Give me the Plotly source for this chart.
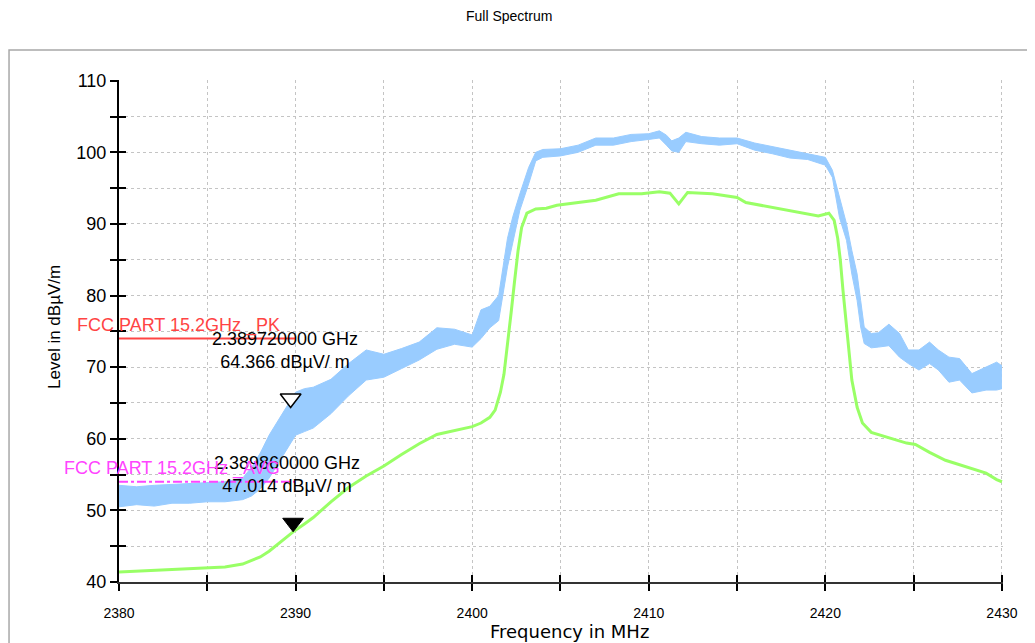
import plotly.graph_objects as go

# Peak trace (blue) - read as upper/lower envelope of the noisy sweep
pk_freq = [2380, 2381, 2382, 2383, 2384, 2385, 2386, 2387, 2387.5, 2388, 2388.5, 2389, 2389.5,
           2390, 2390.5, 2391, 2392, 2393, 2394, 2395, 2396, 2397, 2398, 2399, 2400, 2400.5,
           2401, 2401.5, 2402, 2402.3, 2402.7, 2403.2, 2403.6, 2404, 2405, 2406, 2407, 2408,
           2409, 2410, 2410.6, 2411, 2411.3, 2411.7, 2412.1, 2413, 2414, 2415, 2416, 2417, 2418,
           2419, 2420, 2420.4, 2420.8, 2421.2, 2421.5, 2421.8, 2422, 2422.2, 2422.6, 2423,
           2423.6, 2424.2, 2424.7, 2425.3, 2425.9, 2426.4, 2427, 2427.6, 2428.3, 2429.1, 2429.7, 2430]
pk_upper = [53.5, 53.3, 53.5, 53.6, 53.8, 53.8, 54.0, 54.5, 56.0, 58.0, 60.5, 62.5, 64.5,
            66.5, 67.0, 67.2, 68.3, 70.5, 72.4, 71.8, 72.6, 73.5, 75.5, 75.3, 74.5, 78.0,
            78.5, 80.0, 88.0, 91.0, 94.2, 97.9, 100.0, 100.4, 100.5, 101.0, 102.0, 102.0,
            102.5, 102.6, 103.0, 102.4, 101.6, 102.0, 102.8, 102.2, 102.0, 102.0, 101.3, 100.8, 100.2,
            99.8, 99.3, 97.5, 93.7, 90.0, 86.3, 83.0, 79.3, 75.6, 74.7, 74.8,
            76.0, 74.7, 72.4, 72.4, 73.5, 72.4, 71.4, 71.2, 69.1, 70.0, 70.7, 70.2]
pk_lower = [50.5, 50.8, 50.6, 51.0, 51.0, 51.2, 51.2, 51.5, 52.0, 53.0, 54.5, 56.5, 58.5,
            60.5, 61.0, 61.5, 63.5, 66.0, 68.2, 68.6, 69.8, 71.0, 72.5, 73.2, 72.8, 74.0,
            75.5, 76.5, 84.0, 87.3, 91.9, 95.6, 98.8, 99.3, 99.5, 100.0, 101.0, 101.0,
            101.5, 101.8, 102.0, 101.0, 100.2, 100.0, 101.5, 101.2, 101.0, 101.2, 100.3, 99.8, 99.2,
            99.0, 98.2, 96.5, 90.9, 87.7, 83.0, 79.3, 75.6, 73.3, 72.7, 72.8,
            73.0, 71.4, 70.5, 69.6, 70.5, 69.6, 67.9, 68.2, 66.4, 66.8, 66.8, 67.0]

# Average trace (green)
av_freq = [2380, 2382, 2384, 2385, 2386, 2387, 2388, 2388.5, 2389, 2389.86, 2390.5, 2391, 2392,
           2393, 2394, 2395, 2396, 2397, 2398, 2399, 2400, 2400.5, 2401, 2401.3, 2401.6, 2401.8,
           2402, 2402.2, 2402.4, 2402.6, 2402.8, 2403.1, 2403.6, 2404.2, 2404.8, 2406, 2407,
           2408.3, 2409.6, 2410.6, 2411.2, 2411.7, 2412.2, 2413.6, 2415, 2415.5, 2416.4, 2417.8,
           2418.9, 2419.6, 2420.2, 2420.5, 2420.7, 2420.85, 2421.0, 2421.2, 2421.35, 2421.5,
           2421.8, 2422.1, 2422.6, 2423.6, 2424.6, 2425.1, 2425.9, 2426.8, 2428.1, 2429.1, 2429.7, 2430]
av_level = [41.4, 41.6, 41.8, 41.9, 42.1, 42.5, 43.5, 44.3, 45.3, 47.0, 48.1, 49.0, 51.2,
            53.2, 54.8, 56.2, 57.8, 59.3, 60.6, 61.2, 61.7, 62.2, 63.0, 64.0, 66.5, 69.0,
            73.0, 77.5, 82.0, 86.3, 89.5, 91.5, 92.1, 92.2, 92.6, 93.0, 93.3,
            94.2, 94.2, 94.5, 94.3, 92.8, 94.4, 94.2, 93.7, 93.0, 92.6, 91.9,
            91.5, 91.1, 91.5, 90.5, 88.0, 84.9, 80.7, 75.6, 71.9, 68.2,
            64.4, 62.2, 60.9, 60.1, 59.4, 59.2, 58.1, 57.0, 56.0, 55.2, 54.3, 54.0]

# Limit lines
limit_freq = [2380, 2390]
limit_pk = [74, 74]
limit_av = [54, 54]

# Markers (freq MHz, level dBuV/m)
mk_pk = (2389.72, 64.366)
mk_av = (2389.86, 47.014)

x_ticks = list(range(2380, 2431, 5))
x_text = [str(v) if v % 10 == 0 else '' for v in x_ticks]
y_ticks = list(range(40, 111, 5))
y_text = [str(v) if v % 10 == 0 else '' for v in y_ticks]

X_RANGE = [2380, 2430.06]
Y_RANGE = [40, 110.1]

BLUE = '#99ccff'
GREEN = '#99ff66'
RED = '#ff4444'
MAGENTA = '#ff44ff'
GRID = '#c4c4c4'
FONT = 'Liberation Sans, Arial, sans-serif'

fig = go.Figure()

fig.add_trace(go.Scatter(x=pk_freq, y=pk_lower, mode='lines',
                         line=dict(color=BLUE, width=1), hoverinfo='skip', showlegend=False))
fig.add_trace(go.Scatter(x=pk_freq, y=pk_upper, mode='lines', fill='tonexty', fillcolor=BLUE,
                         line=dict(color=BLUE, width=1), name='PK', showlegend=False))
fig.add_trace(go.Scatter(x=av_freq, y=av_level, mode='lines',
                         line=dict(color=GREEN, width=3), name='AVG', showlegend=False))

fig.add_trace(go.Scatter(x=limit_freq, y=limit_pk, mode='lines',
                         line=dict(color=RED, width=2), showlegend=False))
fig.add_trace(go.Scatter(x=limit_freq, y=limit_av, mode='lines',
                         line=dict(color=MAGENTA, width=2, dash='dashdot'), showlegend=False))

# marker triangles sit with their tip on the point: drawn on a copy of the y axis
# lifted by half a marker (9 px) so the glyph centre is above the value
lift = 9 * (Y_RANGE[1] - Y_RANGE[0]) / 502
fig.add_trace(go.Scatter(x=[mk_pk[0]], y=[mk_pk[1]], mode='markers', showlegend=False, yaxis='y3',
                         marker=dict(symbol='triangle-down', size=18, color='white',
                                     line=dict(color='black', width=1.5))))
fig.add_trace(go.Scatter(x=[mk_av[0]], y=[mk_av[1]], mode='markers', showlegend=False, yaxis='y3',
                         marker=dict(symbol='triangle-down', size=18, color='black',
                                     line=dict(color='black', width=1))))

# dummy trace so the cross-tick overlay axes get drawn
fig.add_trace(go.Scatter(x=[], y=[], xaxis='x2', yaxis='y2', showlegend=False))

for (fx, lv) in (mk_pk, mk_av):
    fig.add_annotation(x=fx, y=lv, xref='x', yref='y', showarrow=False,
                       text=f'{fx / 1000:.9f} GHz<br>{lv:.3f} dBµV/ m',
                       font=dict(family=FONT, size=18, color='black'),
                       xshift=-6, yshift=57, align='center')

fig.add_annotation(x=limit_freq[0], y=limit_pk[0], xref='x', yref='y', showarrow=False,
                   text='FCC PART 15.2GHz _PK', xanchor='left', yanchor='bottom',
                   xshift=-44, yshift=1, font=dict(family=FONT, size=18, color=RED))
fig.add_annotation(x=limit_freq[0], y=limit_av[0], xref='x', yref='y', showarrow=False,
                   text='FCC PART 15.2GHz _AVG', xanchor='left', yanchor='bottom',
                   xshift=-57, yshift=1, font=dict(family=FONT, size=18, color=MAGENTA))

fig.add_annotation(x=0.441, y=1.1275, xref='paper', yref='paper', showarrow=False,
                   xanchor='center', yanchor='middle',
                   text='Full Spectrum', font=dict(family=FONT, size=14, color='black'))
fig.add_annotation(x=-0.0724, y=0.508, xref='paper', yref='paper', showarrow=False,
                   xanchor='center', yanchor='middle',
                   text='Level in dBµV/m', textangle=-90,
                   font=dict(family=FONT, size=17, color='black'))
fig.add_annotation(x=0.510, y=-0.0996, xref='paper', yref='paper', showarrow=False,
                   xanchor='center', yanchor='middle',
                   text='Frequency in MHz',
                   font=dict(family='DejaVu Sans, sans-serif', size=18, color='black'))

# outer panel frame
fig.add_shape(type='rect', xref='paper', yref='paper', x0=-0.1244, y0=-0.3, x1=1.2, y1=1.0598,
              line=dict(color='#a8a8a8', width=1.5), layer='below')

axis_common = dict(showgrid=True, gridcolor=GRID, griddash='dot', gridwidth=1,
                   zeroline=False, ticks='outside', ticklen=7, tickwidth=1.5, tickcolor='black')

# page body has an 8px margin, so the margins are trimmed by 8px on the top/left
fig.update_layout(
    width=1035, height=643,
    margin=dict(l=111, r=40, t=72, b=69),
    paper_bgcolor='white', plot_bgcolor='white',
    xaxis=dict(range=X_RANGE, tickvals=x_ticks, ticktext=x_text, showline=True,
               linecolor='#333333', linewidth=2, ticklabelstandoff=10,
               tickfont=dict(family='Liberation Sans Narrow, Liberation Sans, sans-serif', size=14, color='black'),
               **axis_common),
    yaxis=dict(range=Y_RANGE, tickvals=y_ticks, ticktext=y_text, showline=True,
               linecolor='black', linewidth=2,
               tickfont=dict(family=FONT, size=18, color='black'),
               **axis_common),
    xaxis2=dict(range=X_RANGE, overlaying='x', anchor='y', side='bottom', tickvals=x_ticks,
                ticks='inside', ticklen=7, tickwidth=1.5, tickcolor='black',
                showticklabels=False, showgrid=False, showline=False, zeroline=False),
    yaxis2=dict(range=Y_RANGE, overlaying='y', anchor='x', side='left', tickvals=y_ticks,
                ticks='inside', ticklen=7, tickwidth=1.5, tickcolor='black',
                showticklabels=False, showgrid=False, showline=False, zeroline=False),
    yaxis3=dict(range=[Y_RANGE[0] - lift, Y_RANGE[1] - lift], overlaying='y', anchor='x',
                visible=False),
    showlegend=False,
)

fig.write_html("out.html")
